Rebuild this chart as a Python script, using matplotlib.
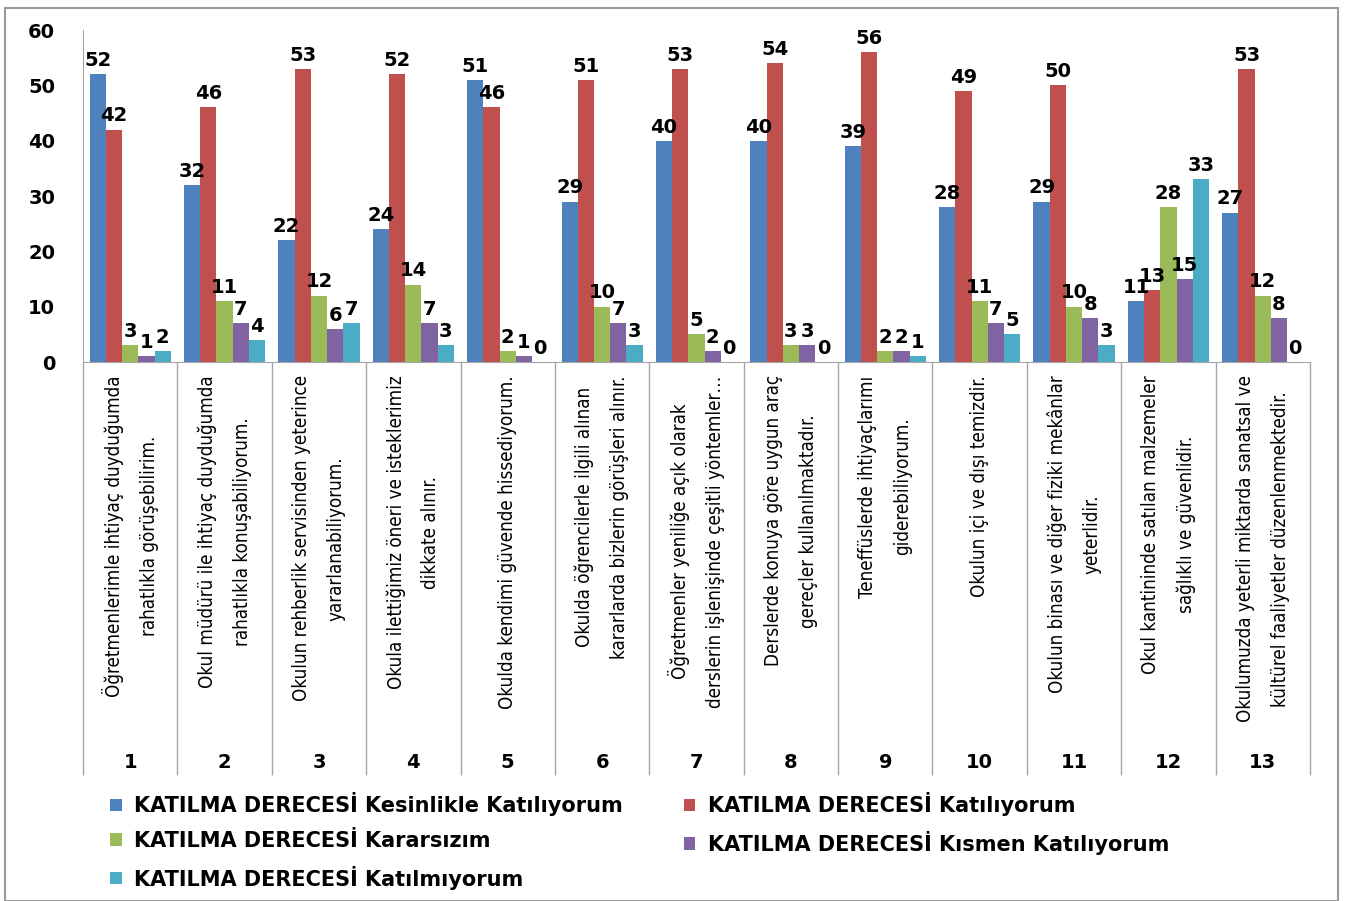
import numpy as np
import matplotlib.pyplot as plt
from matplotlib.patches import Rectangle

groups = ["1", "2", "3", "4", "5", "6", "7", "8", "9", "10", "11", "12", "13"]
statements = [
    "Öğretmenlerimle ihtiyaç duyduğumda\nrahatlıkla görüşebilirim.",
    "Okul müdürü ile ihtiyaç duyduğumda\nrahatlıkla konuşabiliyorum.",
    "Okulun rehberlik servisinden yeterince\nyararlanabiliyorum.",
    "Okula ilettiğimiz öneri ve isteklerimiz\ndikkate alınır.",
    "Okulda kendimi güvende hissediyorum.",
    "Okulda öğrencilerle ilgili alınan\nkararlarda bizlerin görüşleri alınır.",
    "Öğretmenler yeniliğe açık olarak\nderslerin işlenişinde çeşitli yöntemler…",
    "Derslerde konuya göre uygun araç\ngereçler kullanılmaktadır.",
    "Teneffüslerde ihtiyaçlarımı\ngiderebiliyorum.",
    "Okulun içi ve dışı temizdir.",
    "Okulun binası ve diğer fiziki mekânlar\nyeterlidir.",
    "Okul kantininde satılan malzemeler\nsağlıklı ve güvenlidir.",
    "Okulumuzda yeterli miktarda sanatsal ve\nkültürel faaliyetler düzenlenmektedir.",
]

kesinlikle = [52, 32, 22, 24, 51, 29, 40, 40, 39, 28, 29, 11, 27]
katiliyorum = [42, 46, 53, 52, 46, 51, 53, 54, 56, 49, 50, 13, 53]
kararsizim = [3, 11, 12, 14, 2, 10, 5, 3, 2, 11, 10, 28, 12]
kismen = [1, 7, 6, 7, 1, 7, 2, 3, 2, 7, 8, 15, 8]
katilmiyorum = [2, 4, 7, 3, 0, 3, 0, 0, 1, 5, 3, 33, 0]

series = [kesinlikle, katiliyorum, kararsizim, kismen, katilmiyorum]
names = ["KATILMA DERECESİ Kesinlikle Katılıyorum",
         "KATILMA DERECESİ Katılıyorum",
         "KATILMA DERECESİ Kararsızım",
         "KATILMA DERECESİ Kısmen Katılıyorum",
         "KATILMA DERECESİ Katılmıyorum"]
colors = ["#4F81BD", "#C0504D", "#9BBB59", "#8064A2", "#4BACC6"]

W, H = 1345, 901
fig = plt.figure(figsize=(W / 100, H / 100), dpi=100)
# outer grey frame
fig.patches.append(Rectangle((5 / W, 0), 1333 / W, 1 - 8 / H, transform=fig.transFigure,
                             fill=False, edgecolor="#9a9a9a", lw=1.5))

ax = fig.add_axes([83 / W, 1 - 362 / H, (1310 - 83) / W, (362 - 30) / H])
x = np.arange(len(groups))
w = 0.172
handles = []
for k, (vals, name, c) in enumerate(zip(series, names, colors)):
    b = ax.bar(x + (k - 2) * w, vals, w, color=c, label=name)
    ax.bar_label(b, padding=3, fontsize=14, fontweight="bold")
    handles.append(b)

ax.set_xlim(-0.5, len(groups) - 0.5)
ax.set_ylim(0, 60)
ax.set_yticks(range(0, 61, 10))
ax.tick_params(axis="y", length=0, pad=20, labelsize=14)
for t in ax.get_yticklabels():
    t.set_fontweight("bold")
ax.set_xticks([])
for s in ["top", "right"]:
    ax.spines[s].set_visible(False)
for s in ["left", "bottom"]:
    ax.spines[s].set_color("#a6a6a6")

# category separators and labels below the axis
trans = ax.get_xaxis_transform()
bottom = -(775 - 362) / (362 - 30)
ax.vlines(np.arange(len(groups) + 1) - 0.5, bottom, 0, transform=trans,
          color="#a6a6a6", lw=1, clip_on=False)
for i, (st, g) in enumerate(zip(statements, groups)):
    ax.text(i, -0.04, st, transform=trans, rotation=90, ha="center", va="top",
            multialignment="center", fontsize=13.5, fontstretch="condensed", linespacing=2.05)
    ax.text(i, -(763 - 362) / (362 - 30), g, transform=trans, ha="center", va="center",
            fontsize=14, fontweight="bold")

order = [0, 2, 4, 1, 3]
leg = fig.legend([handles[i] for i in order], [names[i] for i in order], ncol=2,
                 loc="upper left", bbox_to_anchor=(100 / W, 1 - 782 / H), frameon=False,
                 prop={"size": 15, "weight": "bold"}, handlelength=0.55, handleheight=0.55,
                 handletextpad=0.6, labelspacing=0.7, columnspacing=2.9, borderpad=0)

fig.savefig("out.png", dpi=100)
